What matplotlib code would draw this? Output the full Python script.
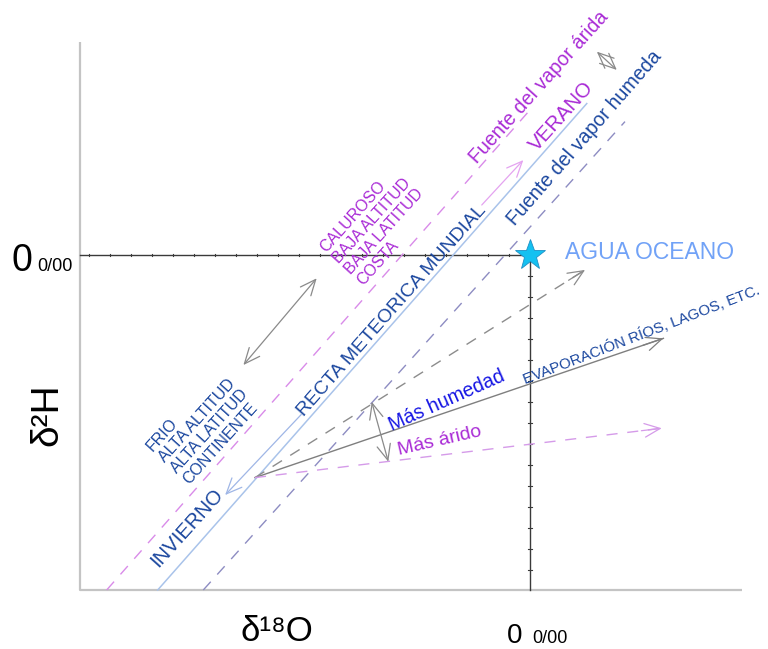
import matplotlib.pyplot as plt

plt.rcParams['font.family'] = ['Liberation Sans', 'DejaVu Sans']

# Schematic units: 1 unit of d18O = one tick on the inner axes
XLIM = (-25.24, 11.33)
YLIM = (-18.76, 12.14)

# outer frame (left and bottom)
frame_x = [-21.43, -21.43, 10.10]
frame_y = [10.14, -15.95, -15.95]

# lines parallel to the meteoric water line (end points)
gmwl_x = [-17.73, 2.70]
gmwl_y = [-15.95, 7.21]
arid_x = [-20.16, 0.0]
arid_y = [-15.95, 6.91]
humid_x = [-15.56, 4.52]
humid_y = [-15.95, 6.35]

# evaporation lines, all leaving the same point on the GMWL
evap_origin = (-13.1, -10.6)
evap_end_x = [6.35, 2.62, 6.27]
evap_end_y = [-3.97, -0.71, -8.25]
evap_color = ['#7f7f7f', '#8c8c8c', '#d59be9']
evap_style = ['-', '--', '--']

# double arrows
dbl_start = [(-7.54, -6.99), (-13.65, -5.24), (3.18, 9.68)]
dbl_end = [(-6.75, -9.84), (-10.16, -1.11), (4.13, 8.81)]

# season arrows along the GMWL
winter_arrow = [(-10.9, -7.6), (-14.52, -11.43)]
summer_arrow = [(-2.30, 2.38), (-0.32, 4.52)]

ocean = (0.0, 0.0)

VIOLET = '#a92bd6'
DARKBLUE = '#1b479f'
K = 1.05  # text scale for the annotations

fig = plt.figure(figsize=(7.68, 6.49), dpi=100)
ax = fig.add_axes([0, 0, 1, 1])
ax.set_xlim(*XLIM)
ax.set_ylim(*YLIM)
ax.axis('off')

# frame
ax.plot(frame_x, frame_y, color='#c4c4c4', lw=1.6, solid_capstyle='butt')

# inner axes through the ocean water point
ax.plot([frame_x[0], 0], [0, 0], color='#3a3a3a', lw=1.0)
ax.plot([0, 0], [0, frame_y[1]], color='#3a3a3a', lw=1.0)
for t in range(-21, 0):
    ax.plot([t, t], [-0.07, 0.07], color='#3a3a3a', lw=0.8)
for t in range(-15, 0):
    ax.plot([-0.08, 0.08], [t, t], color='#3a3a3a', lw=0.8)

# GMWL and source lines
ax.plot(gmwl_x, gmwl_y, color='#a9c3ea', lw=1.1)
ax.plot(arid_x, arid_y, color='#d98be9', lw=1.0, dashes=(8, 7))
ax.plot(humid_x, humid_y, color='#8d8cc2', lw=1.0, dashes=(8, 7))


def head(p0, p1, color, scale=14):
    ax.annotate('', xy=p1, xytext=p0,
                arrowprops=dict(arrowstyle='->,head_length=0.8,head_width=0.35',
                                color=color, lw=0.9, shrinkA=0, shrinkB=0,
                                mutation_scale=scale))


for ex, ey, c, ls in zip(evap_end_x, evap_end_y, evap_color, evap_style):
    if ls == '-':
        ax.plot([evap_origin[0], ex], [evap_origin[1], ey], color=c, lw=1.0)
    else:
        ax.plot([evap_origin[0], ex], [evap_origin[1], ey], color=c, lw=1.0, dashes=(8, 7))
    dx, dy = ex - evap_origin[0], ey - evap_origin[1]
    head((ex - 0.05 * dx, ey - 0.05 * dy), (ex, ey), c)

for s, e in zip(dbl_start, dbl_end):
    ax.annotate('', xy=e, xytext=s,
                arrowprops=dict(arrowstyle='<->,head_length=0.8,head_width=0.35',
                                color='#8a8a8a', lw=0.9, shrinkA=0, shrinkB=0,
                                mutation_scale=14))

ax.annotate('', xy=winter_arrow[1], xytext=winter_arrow[0],
            arrowprops=dict(arrowstyle='->,head_length=0.8,head_width=0.35',
                            color='#9fb6e6', lw=0.9, shrinkA=0, shrinkB=0, mutation_scale=14))
ax.annotate('', xy=summer_arrow[1], xytext=summer_arrow[0],
            arrowprops=dict(arrowstyle='->,head_length=0.8,head_width=0.35',
                            color='#e4a3f0', lw=0.9, shrinkA=0, shrinkB=0, mutation_scale=14))

# ocean water star
ax.plot(*ocean, marker='*', markersize=23, color='#14c1f1', markeredgecolor='#1f8fc4',
        markeredgewidth=0.6, zorder=5)


# rotated labels
def label(x, y, s, angle, color, size, **kw):
    ax.text(x, y, s, rotation=angle, rotation_mode='anchor', ha='center', va='center',
            color=color, fontsize=size * K, **kw)


label(0.43, 8.0, 'Fuente del vapor árida', 48, VIOLET, 13.5)
label(1.51, 6.59, 'VERANO', 48, VIOLET, 14)
label(2.57, 5.57, 'Fuente del vapor humeda', 49, DARKBLUE, 13.5)
label(-6.57, -2.67, 'RECTA METEORICA MUNDIAL', 48.5, DARKBLUE, 13.3)
label(-7.24, 1.38, 'CALUROSO\nBAJA ALTITUD\nBAJA LATITUD\nCOSTA', 48, VIOLET, 11,
      multialignment='left', linespacing=1.12)
label(-15.57, -8.14, 'FRIO\nALTA ALTITUD\nALTA LATITUD\nCONTINENTE', 48, DARKBLUE, 11,
      multialignment='left', linespacing=1.12)
label(-16.35, -13.01, 'INVIERNO', 48, DARKBLUE, 14)
label(5.32, -3.80, 'EVAPORACIÓN RÍOS, LAGOS, ETC.', 21, DARKBLUE, 10.3)
label(-3.97, -6.94, 'Más humedad', 24, '#1616e4', 13.5)
label(-4.29, -8.86, 'Más árido', 13, VIOLET, 13.3)

ax.text(1.67, 0.12, 'AGUA OCEANO', color='#71a2f7', fontsize=16.5, ha='left', va='center')

# axis labels
ax.text(-24.67, -0.76, '0', fontsize=27, ha='left', va='baseline')
ax.text(-23.48, -0.76, '0/00', fontsize=13, ha='left', va='baseline')
ax.text(-1.1, -18.48, '0', fontsize=20, ha='left', va='baseline')
ax.text(0.1, -18.48, '0/00', fontsize=13, ha='left', va='baseline')
ax.text(-13.81, -18.72, 'δ¹⁸O', fontsize=25, ha='left', va='bottom')
ax.text(-23.0, -7.62, 'δ²H', fontsize=28, rotation=90, ha='center', va='center')

fig.savefig('out.png', dpi=100)
